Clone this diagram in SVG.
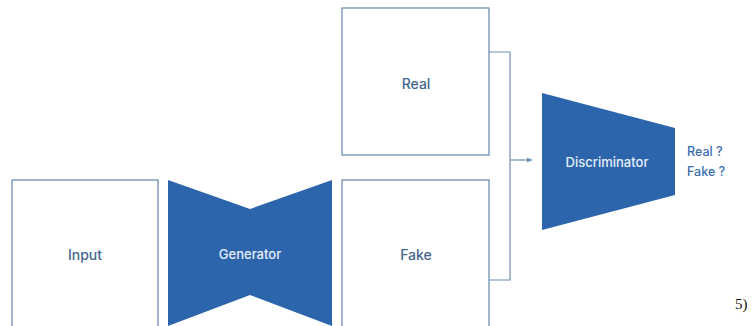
<svg xmlns="http://www.w3.org/2000/svg" width="754" height="326" viewBox="0 0 754 326">
<defs>
<style>
.box{fill:#ffffff;stroke:#6f8fb3;stroke-width:1.3}
.shape{fill:#2d65ad}
.lbl{font-family:"Inter","Liberation Sans",sans-serif;font-size:14px;font-weight:500;fill:#44678f;text-anchor:middle;dominant-baseline:central}
.wl{font-family:"Inter","Liberation Sans",sans-serif;font-size:13px;font-weight:500;fill:#e6eef8;text-anchor:middle;dominant-baseline:central}
.out{font-family:"Inter","Liberation Sans",sans-serif;font-size:12.5px;font-weight:500;fill:#3a6eae}
.conn{fill:none;stroke:#6f8fb3;stroke-width:1.2}
</style>
<marker id="ah" markerWidth="6" markerHeight="6" refX="5" refY="3" orient="auto" markerUnits="userSpaceOnUse">
<path d="M0,0.5 L5,3 L0,5.5 Z" fill="#6f8fb3"/>
</marker>
</defs>
<rect width="754" height="326" fill="#ffffff"/>
<g id="connectors">
<polyline class="conn" points="489,52 510,52 510,280 489,280"/>
<line class="conn" x1="510" y1="160" x2="532" y2="160" marker-end="url(#ah)"/>
</g>
<g id="input">
<rect class="box" x="12" y="180" width="146" height="150"/>
<text class="lbl" x="85" y="254">Input</text>
</g>
<g id="generator">
<polygon class="shape" points="168,180 250,209 332,180 332,326 250,295 168,326"/>
<text class="wl" x="250" y="254">Generator</text>
</g>
<g id="real">
<rect class="box" x="342" y="8" width="147" height="147"/>
<text class="lbl" x="416" y="83">Real</text>
</g>
<g id="fake">
<rect class="box" x="342" y="180" width="147" height="150"/>
<text class="lbl" x="416" y="254">Fake</text>
</g>
<g id="discriminator">
<polygon class="shape" points="542,93 675,128 675,195 542,230"/>
<text class="wl" x="607" y="162">Discriminator</text>
</g>
<g id="output">
<text class="out" x="687" y="156">Real ?</text>
<text class="out" x="687" y="176">Fake ?</text>
</g>
<text x="735" y="309" font-family="Liberation Serif, serif" font-size="15" fill="#111">5)</text>
</svg>
